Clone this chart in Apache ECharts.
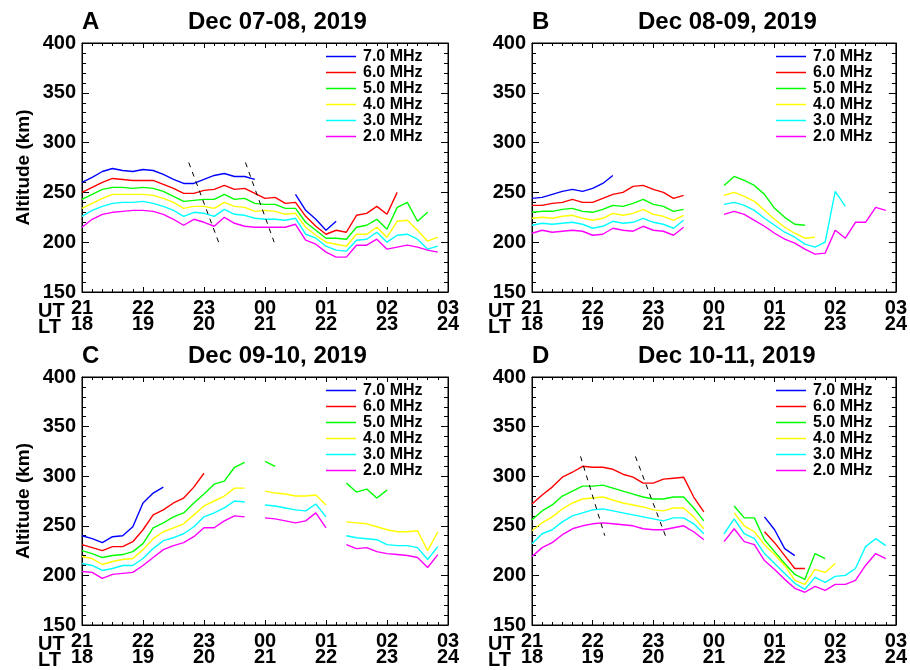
<!DOCTYPE html>
<html><head><meta charset="utf-8">
<script src="https://cdn.jsdelivr.net/npm/echarts@6/dist/echarts.min.js"></script>
<style>html,body{margin:0;padding:0;background:#fff}#c{width:910px;height:670px}</style>
</head><body><div id="c"></div>
<script>
const gap = n => Array(n).fill(null);

const freqNames = ['7.0 MHz','6.0 MHz','5.0 MHz','4.0 MHz','3.0 MHz','2.0 MHz'];
const freqColors = ['#0000ff','#ff0000','#00ff00','#ffff00','#00ffff','#ff00ff'];
const utLabels = ['21','22','23','00','01','02','03'];
const ltLabels = ['18','19','20','21','22','23','24'];
const panelLetters = ['A','B','C','D'];
const panelTitles = ['Dec 07-08, 2019','Dec 08-09, 2019','Dec 09-10, 2019','Dec 10-11, 2019'];
const sampleStepMin = 10; // ionogram cadence, minutes from 21 UT

// Panel A (Dec 07-08)
const blueA    = [260,265,271,274,272,271,273,272,268,263,259,259,263,267,269,266,266,263, ...gap(3), 248,232,223,212,221, ...gap(10)];
const redA     = [250,255,260,264,263,262,262,262,258,254,249,249,252,253,257,253,254,249,244,245,239,240,226,216,208,212,210,227,229,236,228,250, ...gap(4)];
const greenA   = [243,248,253,255,255,254,255,254,251,246,241,242,243,243,248,243,244,239,238,238,234,234,220,212,204,204,203,215,217,223,213,235,240,221,230, null];
const yellowA  = [234,239,244,248,248,248,248,247,244,240,234,236,236,234,240,236,235,231,232,231,228,229,215,207,200,198,196,208,208,215,205,221,222,212,201,205];
const cyanA    = [226,232,236,239,240,240,241,239,236,232,226,230,229,226,233,228,227,224,223,223,222,224,208,204,196,192,191,202,203,210,200,207,208,203,193,196];
const magentaA = [215,223,228,230,231,232,232,231,228,223,217,223,220,216,225,219,216,215,215,215,215,218,202,198,190,185,185,197,197,203,193,195,197,195,192,190];

// Panel B (Dec 08-09)
const blueB    = [244,245,248,251,253,251,254,259,267, ...gap(27)];
const redB     = [237,237,239,240,243,240,240,244,248,250,256,257,253,250,244,247, ...gap(20)];
const greenB   = [230,231,231,233,234,231,230,233,237,236,239,243,238,236,231,233, ...gap(3), 257,266,262,257,248,234,225,218,217, ...gap(8)];
const yellowB  = [224,225,224,226,227,224,222,224,229,227,229,233,228,226,222,227, ...gap(3), 247,250,246,241,232,223,215,209,204,205, ...gap(7)];
const cyanB    = [217,219,218,219,220,218,214,216,221,219,220,224,220,218,214,222, ...gap(3), 238,240,237,232,224,217,210,205,198,195,200,251,236, ...gap(4)];
const magentaB = [209,212,210,211,212,211,207,208,214,212,211,216,212,211,207,215, ...gap(3), 228,231,228,222,216,209,203,199,193,188,189,212,204,220,220,235,232];

// Panel C (Dec 09-10)
const blueC    = [240,237,233,239,240,249,273,283,289, ...gap(27)];
const redC     = [231,228,225,229,229,234,246,261,266,273,278,289,303, ...gap(23)];
const greenC   = [225,222,218,220,221,224,232,248,253,259,263,273,282,292,295,309,314, null, 315,310, ...gap(6), 293,284,287,278,286, ...gap(5)];
const yellowC  = [219,217,211,214,216,217,226,237,244,248,252,261,270,275,280,288,288, null, 285,283,282,280,280,281,271, null, 254,253,252,249,246,244,244,245,225,244];
const cyanC    = [212,210,205,207,210,210,217,227,235,238,242,249,259,263,268,275,274, null, 271,270,268,266,265,272,259, null, 240,238,237,236,231,230,230,228,216,229];
const magentaC = [204,203,197,201,202,203,210,218,226,230,233,239,248,248,255,260,259, null, 258,257,255,253,255,263,248, null, 231,227,228,224,222,221,220,218,208,221];

// Panel D (Dec 10-11)
const blueD    = [...gap(23), 259,246,227,220, ...gap(9)];
const redD     = [272,281,289,299,304,310,309,309,307,302,299,293,293,297,298,299,279,264, ...gap(5), 244,233,220,207,207, ...gap(8)];
const greenD   = [256,265,271,280,285,290,290,291,288,285,282,279,277,277,279,279,268,255, ...gap(2), 270,258,258,236,224,212,201,196,222,217, ...gap(6)];
const yellowD  = [245,253,259,267,273,277,278,279,276,273,271,269,266,265,268,268,259,247, ...gap(2), 263,250,244,231,221,210,195,191,206,203,212, ...gap(5)];
const cyanD    = [232,242,246,254,260,263,266,267,265,263,261,259,257,255,258,258,252,242, null, 242,257,242,237,222,212,202,192,186,198,193,199,200,207,229,237,230];
const magentaD = [219,228,233,241,247,250,252,253,252,251,250,247,246,246,248,250,244,236, null, 234,247,234,231,215,206,196,187,183,189,185,191,191,195,210,222,217];

// dashed guide segments: [hours after 21 UT, km, hours, km]
const guidesA = [[1.75,280,2.24,200],[2.68,280,3.15,200]];
const guidesB = [];
const guidesC = [];
const guidesD = [[0.80,320,1.20,240],[1.705,320,2.20,240]];

const panelSeries = [
  [blueA, redA, greenA, yellowA, cyanA, magentaA],
  [blueB, redB, greenB, yellowB, cyanB, magentaB],
  [blueC, redC, greenC, yellowC, cyanC, magentaC],
  [blueD, redD, greenD, yellowD, cyanD, magentaD]
];
const panelGuides = [guidesA, guidesB, guidesC, guidesD];

const FONT = "'Liberation Sans', Arial, Helvetica, sans-serif";
const grids = [
  {left:82, top:43, width:366, height:249},
  {left:532, top:43, width:365, height:249},
  {left:82, top:377, width:366, height:248},
  {left:532, top:377, width:365, height:248}
];

const black = {color:'#000', width:1};
const xAxes = [], yAxes = [], series = [], titles = [], legends = [], graphics = [];

grids.forEach((g, i) => {
  const common = {
    gridIndex:i, type:'value', min:0, max:6, interval:1,
    axisLine:{show:true, onZero:false, lineStyle:black},
    axisTick:{show:true, inside:true, length:5, lineStyle:black},
    minorTick:{show:true, splitNumber:6, length:3, lineStyle:black},
    splitLine:{show:false}, minorSplitLine:{show:false}
  };
  xAxes.push(Object.assign({}, common, {
    position:'bottom',
    axisLabel:{formatter: v => utLabels[v] + '\n' + ltLabels[v], fontSize:20, fontWeight:'bold',
      color:'#000', fontFamily:FONT, lineHeight:15.5, margin:9}
  }));
  xAxes.push(Object.assign({}, common, {position:'top', axisLabel:{show:false}}));
  const ycommon = {
    gridIndex:i, type:'value', min:150, max:400, interval:50,
    axisLine:{show:true, onZero:false, lineStyle:black},
    axisTick:{show:true, inside:true, length:7, lineStyle:black},
    minorTick:{show:true, splitNumber:5, length:4, lineStyle:black},
    splitLine:{show:false}, minorSplitLine:{show:false}
  };
  const yl = Object.assign({}, ycommon, {
    position:'left',
    axisLabel:{fontSize:20, fontWeight:'bold', color:'#000', fontFamily:FONT, margin:6}
  });
  if (i % 2 === 0) {
    yl.name = 'Altitude (km)';
    yl.nameLocation = 'middle';
    yl.nameGap = 49;
    yl.nameTextStyle = {fontSize:19, fontWeight:'bold', color:'#000', fontFamily:FONT};
  }
  yAxes.push(yl);
  yAxes.push(Object.assign({}, ycommon, {position:'right', axisLabel:{show:false}}));

  panelSeries[i].forEach((vals, f) => {
    series.push({
      type:'line', name:freqNames[f], xAxisIndex:2*i, yAxisIndex:2*i,
      data: vals.map((v, k) => [k * sampleStepMin / 60, v]),
      symbol:'none', color:freqColors[f], connectNulls:false,
      lineStyle:{color:freqColors[f], width:1.4}, silent:true, z:3
    });
  });
  panelGuides[i].forEach(gd => {
    series.push({
      type:'line', name:'guide', xAxisIndex:2*i, yAxisIndex:2*i,
      data:[[gd[0], gd[1]], [gd[2], gd[3]]], symbol:'none',
      lineStyle:{color:'#000', width:1, type:[5,5]}, silent:true, z:4
    });
  });

  titles.push({text:panelLetters[i], left:g.left, top:g.top - 33, padding:0,
    textStyle:{fontSize:24, fontWeight:'bold', color:'#000', fontFamily:FONT}});
  titles.push({text:panelTitles[i], left:g.left + 106, top:g.top - 33, padding:0,
    textStyle:{fontSize:24, fontWeight:'bold', color:'#000', fontFamily:FONT}});

  legends.push({
    data:freqNames, orient:'vertical', left:g.left + 244, top:g.top + 5.5, padding:0,
    icon:'rect', itemWidth:30, itemHeight:1.5, itemGap:0, selectedMode:false,
    textStyle:{fontSize:16, fontWeight:'bold', color:'#000', fontFamily:FONT, lineHeight:16, padding:[0,0,0,2]}
  });

  graphics.push({
    type:'text', left:g.left - 44, top:g.top + g.height + 9.5,
    style:{text:'UT\nLT', font:'bold 20px ' + FONT, fill:'#000', lineHeight:15.5}
  });
});

const chart = echarts.init(document.getElementById('c'), null, {renderer:'canvas'});
chart.setOption({
  animation:false,
  backgroundColor:'#fff',
  title:titles,
  legend:legends,
  grid:grids.map(g => Object.assign({show:true, borderColor:'#000', borderWidth:1, backgroundColor:'transparent'}, g)),
  xAxis:xAxes,
  yAxis:yAxes,
  series:series,
  graphic:graphics
});
</script>
</body></html>
